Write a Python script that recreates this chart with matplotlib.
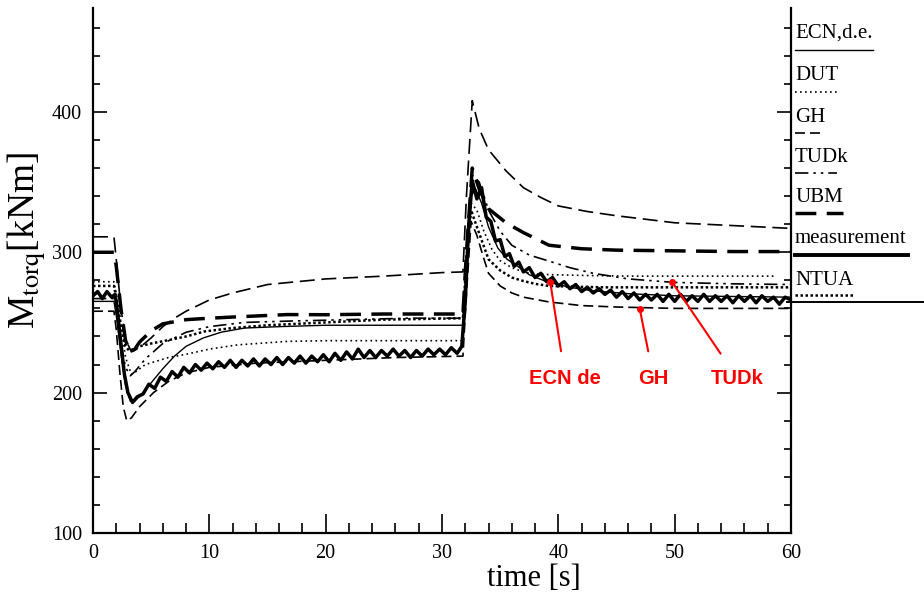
import matplotlib
matplotlib.use('Agg')
import matplotlib.pyplot as plt
from matplotlib.ticker import MultipleLocator
from matplotlib.lines import Line2D

plt.rcParams['font.family'] = ['Liberation Serif', 'DejaVu Serif']
plt.rcParams['mathtext.fontset'] = 'stix'

# --- data ---
t_ecn = [0, 1.8, 2.0, 2.4, 2.8, 3.2, 3.6, 4.2, 5.0, 6.0, 7.0, 8.0, 9.5, 11, 13, 16, 20, 25, 31.8,
         32.1, 32.5, 32.9, 33.4, 34, 34.8, 35.6, 36.5, 37.5, 39, 41, 43, 46, 50, 55, 60]
v_ecn = [265, 265, 255, 228, 205, 194, 194, 199, 207, 217, 226, 233, 239, 243, 246, 247, 248, 248, 248,
         290, 340, 345, 335, 318, 303, 295, 290, 284, 279, 275, 272.5, 270.5, 269, 268.5, 268]

t_dut = [0, 1.8, 2.0, 2.4, 2.8, 3.3, 3.7, 4.5, 5.5, 6.5, 8.1, 10, 12.4, 16.7, 20, 25, 31.8,
         32.1, 32.5, 33, 33.6, 34.3, 35, 36, 37, 38, 39.5, 42, 46, 52, 58.5]
v_dut = [279, 279, 270, 248, 225, 213, 215, 220, 222.5, 225, 227.5, 231, 234, 236.5, 237, 237, 237,
         285, 335, 330, 315, 302, 294, 289, 286, 284.5, 284, 283.5, 283, 283, 283]

t_gh = [0, 1.8, 2.0, 2.3, 2.6, 2.9, 3.3, 4.0, 5.2, 6.5, 8, 10, 14, 20, 26, 31.8,
        32.1, 32.5, 33, 33.5, 34, 35, 36, 37, 39.2, 42, 45, 50, 55, 60]
v_gh = [258, 258, 245, 215, 190, 180, 182, 190, 200, 208, 214, 218, 221, 223, 225, 226,
        270, 322, 312, 298, 285, 276, 271, 268, 264.6, 262, 261, 260, 260, 260]

t_tudk = [0, 1.8, 2.0, 2.4, 2.8, 3.2, 3.6, 4.5, 6, 8, 10, 13, 17, 22, 27, 31.8,
          32.1, 32.6, 33.2, 34, 35, 36, 37.5, 39.2, 41, 43, 46, 50, 55, 60]
v_tudk = [267, 267, 258, 235, 218, 212, 215, 224, 235, 243, 247, 250, 251, 252, 253, 253,
          300, 355, 350, 330, 315, 305, 298, 293.7, 289, 285, 281, 278.5, 277.5, 277]

t_ubm = [0, 1.8, 2.0, 2.4, 2.8, 3.2, 3.6, 4, 5, 6, 8, 10, 12.4, 16.7, 20, 25, 31.8,
         32.1, 32.6, 33.2, 34, 35.5, 37, 39.2, 42, 45, 50, 55, 60]
v_ubm = [300, 300, 290, 260, 237, 229, 231, 236, 244, 249, 252, 253, 254, 255.6, 255.5, 256, 256,
         300, 360, 345, 331, 321, 314, 305, 302.5, 301.5, 301, 300.5, 300.5]

t_ntua = [0, 1.8, 2.0, 2.4, 2.8, 3.1, 3.5, 4, 5, 6.6, 8, 9.6, 12, 15, 20, 25, 31.8,
          32.1, 32.5, 33, 34, 35, 36, 37, 38, 39.2, 41, 44, 48, 54, 60]
v_ntua = [276, 276, 268, 248, 233, 230, 231, 233, 235, 237.6, 240, 243.6, 246, 248, 250, 252, 253,
          295, 330, 318, 295, 287, 282, 279.5, 277.5, 276, 275.5, 275, 275, 275, 275]

# curve without legend entry (top long-dash curve)
t_top = [0, 1.8, 2.0, 2.4, 2.8, 3.3, 4, 5, 6, 7, 8, 10, 12, 15, 20, 25, 30, 31.8,
         32.1, 32.6, 33.2, 34, 35.5, 37, 38.5, 40, 42.5, 45, 50, 55, 60]
v_top = [311, 311, 295, 260, 238, 229, 232, 239, 247, 253, 258, 266, 271, 277, 281, 283, 285.5, 286,
         340, 408, 388, 373, 358, 346, 339, 333, 329, 326, 321, 319, 317]

t_meas = [0, 0.4, 0.8, 1.2, 1.6, 1.9, 2.1, 2.4, 2.7, 3.0, 3.4, 3.8,
          4.3, 4.8, 5.3, 5.8, 6.3, 6.8, 7.3, 7.8, 8.3, 8.8, 9.3, 9.8, 10.3, 10.8, 11.3, 11.8,
          12.3, 12.8, 13.3, 13.8, 14.3, 14.8, 15.3, 15.8, 16.3, 16.8, 17.3, 17.8, 18.3, 18.8,
          19.3, 19.8, 20.3, 20.8, 21.3, 21.8, 22.3, 22.8, 23.3, 23.8, 24.3, 24.8, 25.3, 25.8,
          26.3, 26.8, 27.3, 27.8, 28.3, 28.8, 29.3, 29.8, 30.3, 30.8, 31.3, 31.7,
          32.0, 32.3, 32.6, 33.0, 33.4, 33.8, 34.2, 34.6, 35.0, 35.4, 35.8, 36.2, 36.6, 37.0,
          37.5, 38.0, 38.5, 39.0, 39.5, 40.0, 40.5, 41.0, 41.5, 42.0, 42.5, 43.0, 43.5, 44.0,
          44.5, 45.0, 45.5, 46.0, 46.5, 47.0, 47.5, 48.0, 48.5, 49.0, 49.5, 50.0, 50.5, 51.0,
          51.5, 52.0, 52.5, 53.0, 53.5, 54.0, 54.5, 55.0, 55.5, 56.0, 56.5, 57.0, 57.5, 58.0,
          58.5, 59.0, 59.5, 60.0]
v_meas = [269, 272, 267, 272, 268, 270, 258, 235, 213, 200, 193, 197,
          199, 206, 203, 211, 208, 215, 211, 218, 214, 220, 216, 221, 217, 222, 218, 223,
          218, 223, 219, 224, 219, 224, 220, 225, 220, 225, 221, 226, 221, 226,
          222, 227, 222, 228, 223, 229, 224, 231, 225, 230, 225, 230, 226, 231,
          226, 230, 225, 230, 226, 231, 227, 231, 227, 232, 228, 233,
          265, 320, 351, 338, 346, 325, 322, 308, 309, 297, 299, 290, 293, 286,
          289, 282, 285, 279, 282, 276, 279, 274, 277, 272, 275, 271, 274, 270,
          273, 268, 272, 267, 271, 266, 270, 266, 270, 265, 270, 265, 270, 265,
          269, 265, 270, 265, 269, 265, 269, 264, 269, 265, 269, 264, 269, 265,
          268, 263, 268, 266]

# red notes: label, point on curve, text position
note_labels = ['ECN de', 'GH', 'TUDk']
note_pts = [(39.3, 279), (47.0, 259.5), (49.8, 278.5)]
note_txt = [(40.6, 210), (48.2, 210), (55.4, 210)]

W, H = 924, 602


def fx(x):
    return x / W


def fy(y):
    return 1 - y / H


fig = plt.figure(figsize=(9.24, 6.02), dpi=100)
ax = fig.add_axes([fx(93), fy(533), fx(791 - 93), (533 - 8) / H])

ax.plot(t_top, v_top, color='black', lw=1.2, ls=(0, (9, 4)))
ax.plot(t_ubm, v_ubm, color='black', lw=2.5, ls=(0, (6, 3)))
ax.plot(t_dut, v_dut, color='black', lw=1.2, ls=(0, (1, 2)))
ax.plot(t_tudk, v_tudk, color='black', lw=1.2, ls=(0, (8, 3, 1.5, 3, 1.5, 3)))
ax.plot(t_ntua, v_ntua, color='black', lw=1.8, ls=(0, (1, 1)))
ax.plot(t_ecn, v_ecn, color='black', lw=1.0, ls='-')
ax.plot(t_meas, v_meas, color='black', lw=2.5, ls='-')
ax.plot(t_gh, v_gh, color='black', lw=1.2, ls=(0, (6, 3)))

for lab, (px_, py_), (tx, ty) in zip(note_labels, note_pts, note_txt):
    ax.annotate(lab, xy=(px_, py_), xytext=(tx, ty), color='red', fontsize=14.5,
                fontweight='bold', family='Liberation Sans', ha='center', va='center',
                arrowprops=dict(arrowstyle='-', color='red', lw=1.5, shrinkA=11, shrinkB=0))
    ax.plot(px_, py_, 'o', color='red', ms=4)

ax.set_xlim(0, 60)
ax.set_ylim(100, 474)
ax.xaxis.set_major_locator(MultipleLocator(10))
ax.xaxis.set_minor_locator(MultipleLocator(2))
ax.yaxis.set_major_locator(MultipleLocator(100))
ax.yaxis.set_minor_locator(MultipleLocator(20))
ax.tick_params(which='both', direction='in', right=True, top=False, width=1.2, labelsize=14.5)
ax.tick_params(axis='x', which='major', length=14, pad=8)
ax.tick_params(axis='x', which='minor', length=7)
ax.tick_params(axis='y', which='major', length=10, pad=8)
ax.tick_params(axis='y', which='minor', length=5)
ax.spines['top'].set_visible(False)
for s in ['left', 'right', 'bottom']:
    ax.spines[s].set_linewidth(1.6)

ax.set_xlabel('time [s]', fontsize=22, labelpad=2)
ax.xaxis.set_label_coords(fx(534 - 93) / fx(791 - 93), -0.06)
fig.text(fx(27), fy(240), r'M$_{\mathrm{torq}}$[kNm]', fontsize=27, rotation=90,
         ha='center', va='center')

# legend drawn to the right of the frame
leg_names = ['ECN,d.e.', 'DUT', 'GH', 'TUDk', 'UBM', 'measurement', 'NTUA']
leg_text_y = [38, 80, 122, 162, 202, 243, 285]
leg_line_y = [50, 92, 133, 173, 213, 255, 295]
leg_line_x2 = [873, 837, 825, 837, 843, 908, 853]
leg_styles = [('-', 1.0), ((0, (1, 2)), 1.2), ((0, (6, 3)), 1.2),
              ((0, (8, 3, 1.5, 3, 1.5, 3)), 1.2), ((0, (6, 3)), 2.5), ('-', 2.8), ((0, (1, 1)), 1.8)]
for name, ty, ly, x2, (ls, lw) in zip(leg_names, leg_text_y, leg_line_y, leg_line_x2, leg_styles):
    fig.text(fx(795), fy(ty), name, fontsize=15, ha='left', va='baseline')
    fig.add_artist(Line2D([fx(795), fx(x2)], [fy(ly), fy(ly)], color='black', lw=lw, ls=ls))
fig.add_artist(Line2D([fx(787), fx(924)], [fy(302), fy(302)], color='black', lw=1.4))

plt.savefig('out.png', dpi=100)
